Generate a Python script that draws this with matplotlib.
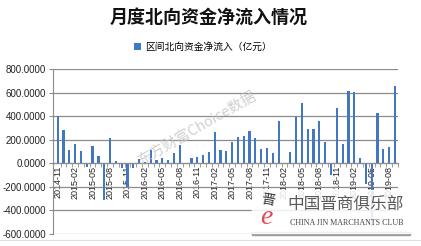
import matplotlib.pyplot as plt
import numpy as np
import pandas as pd

plt.rcParams['font.family'] = ['Liberation Sans', 'Noto Sans CJK SC']

# 月份 2014-11 .. 2019-09
months = [p.strftime('%Y-%m') for p in pd.period_range('2014-11', '2019-09', freq='M')]
# 区间北向资金净流入（亿元）
inflow = [403, 281, 113, 159, 102, -31, 142, 60, -312, 216, 17, -45, -200, -45, 34,
          10, 111, 26, 40, 26, 88, 150, -8, 40, 51, 68, 96,
          261, 111, 102, 179, 221, 227, 272, 213, 119, 128, 88, 355,
          -10, 96, 391, 513, 289, 289, 357, 182, -102, 471, 162, 613,
          604, 43, -179, -537, 428, 119, 133, 653]
yticks = [-600, -400, -200, 0, 200, 400, 600, 800]

fig = plt.figure(figsize=(4.21, 2.46), dpi=100)
ax = fig.add_axes([0.126, 0.0508, 0.819, 0.6687])

x = np.arange(len(months))
ax.bar(x, inflow, width=0.38, color='#4277C4', label='区间北向资金净流入（亿元）', zorder=3)

ax.set_ylim(-600, 800)
ax.set_xlim(-0.8, len(months) - 0.5)
ax.set_yticks(yticks)
ax.set_yticklabels(['%.4f' % v for v in yticks], fontsize=7, color='#222222')
ax.yaxis.grid(True, color='#8C8C8C', lw=0.9, zorder=0)
ax.tick_params(axis='y', length=3, color='#8C8C8C', pad=2)

for s in ['top', 'right']:
    ax.spines[s].set_visible(False)
ax.spines['left'].set_color('#8C8C8C')
ax.spines['bottom'].set_position(('data', 0))
ax.spines['bottom'].set_color('#8C8C8C')
ax.spines['bottom'].set_zorder(4)

ax.set_xticks(x[::3])
ax.set_xticklabels(months[::3], rotation=90, fontsize=6.5, color='#222222')
ax.set_xticks(x + 0.5, minor=True)
ax.tick_params(axis='x', which='major', length=0, pad=2)
ax.tick_params(axis='x', which='minor', length=3, color='#8C8C8C')

fig.text(0.495, 1 - 17 / 246, '月度北向资金净流入情况', ha='center', va='center',
         fontsize=13, fontweight='bold', family='Noto Sans CJK SC', color='#111111')
fig.legend(loc='center', bbox_to_anchor=(0.482, 1 - 47 / 246), frameon=False,
           handlelength=0.7, handleheight=0.7, handletextpad=0.5,
           prop={'family': 'Noto Sans CJK SC', 'size': 7})

# 水印
fig.text(0.468, 0.48, '东方财富Choice数据', rotation=30, ha='center', va='center',
         fontsize=10.5, color='#C4C4C4', alpha=0.8, family=['Noto Sans CJK SC'])

# 俱乐部 logo
fig.patches.append(plt.Rectangle((252 / 421, 1 - 235 / 246), 158 / 421, 3 / 246,
                                 transform=fig.transFigure, color='#9A9A9A', zorder=5))
fig.patches.append(plt.Rectangle((252 / 421, 1 - 233 / 246), 158 / 421, 43 / 246,
                                 transform=fig.transFigure, color='white', alpha=0.85, zorder=5))
fig.text(346 / 421, 1 - 204 / 246, '中国晋商俱乐部', ha='center', va='center',
         fontsize=12, color='#5A5A5A', family='Noto Sans CJK SC', zorder=6)
fig.text(347 / 421, 1 - 223 / 246, 'CHINA JIN MARCHANTS CLUB', ha='center', va='center',
         fontsize=5.8, color='#444444', family='Liberation Serif', zorder=6)
fig.text(266 / 421, 1 - 217 / 246, 'e', ha='center', va='center', fontsize=20,
         style='italic', color='#E8474F', family='Liberation Serif', zorder=6)
fig.text(268 / 421, 1 - 200 / 246, '晋', ha='center', va='center', fontsize=10,
         color='#333333', family='Noto Sans CJK SC', rotation=-10, zorder=6)

fig.add_artist(plt.Line2D([0, 1], [1 - 240 / 246] * 2, color='#E0E0E0', lw=0.8))

fig.savefig('out.png', dpi=100)
